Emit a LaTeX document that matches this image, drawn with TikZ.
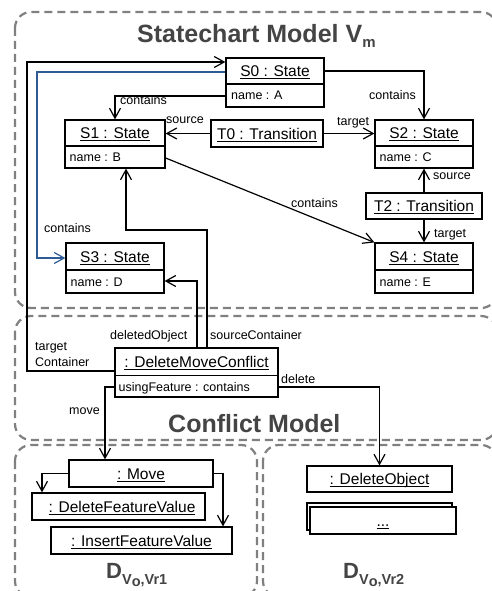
\documentclass[tikz,border=0pt]{standalone}
\usepackage{fontspec}
\setmainfont{Liberation Sans}
\usetikzlibrary{arrows.meta}
\definecolor{dashgray}{RGB}{128,128,128}
\definecolor{titlegray}{RGB}{68,68,68}
\definecolor{linkblue}{RGB}{46,90,150}
\newcommand{\myul}[1]{\setbox0=\hbox{#1}\leavevmode\rlap{\rule[-2.6pt]{\wd0}{1.1pt}}\box0}
\begin{document}
\begin{tikzpicture}[x=1pt,y=-1pt,
  region/.style={draw=dashgray, line width=2.2pt, dash pattern=on 8pt off 5pt, rounded corners=16pt},
  objbox/.style={draw, line width=1.2pt, inner sep=0pt, fill=white},
  divider/.style={line width=1.2pt},
  titletext/.style={font=\fontsize{15.5}{18}\selectfont, inner sep=0pt, text height=11.2pt, text depth=0pt},
  attrtext/.style={font=\fontsize{12.5}{15}\selectfont, inner sep=0pt, anchor=west, text height=9pt, text depth=0pt},
  lbl/.style={font=\fontsize{12.5}{15}\selectfont, inner sep=0pt, anchor=base west},
  bigtitle/.style={font=\fontsize{25}{30}\selectfont\bfseries, text=titlegray, inner sep=0pt, anchor=base west},
  conn/.style={draw, line width=1.2pt, -{Straight Barb[length=10pt,width=11pt]}},
]
\useasboundingbox (0,0) rectangle (492,591);

% regions
\draw[region] (15,12) rectangle (497,308);
\draw[region] (15,316) rectangle (497,440);
\draw[region] (15,445) rectangle (257,597);
\draw[region] (263,445) rectangle (497,597);

\node[bigtitle] (sctitle) at (137,42.7) {Statechart Model V\raisebox{-4.5pt}{\fontsize{15}{18}\selectfont m}};
\node[bigtitle] (cmtitle) at (168,432) {Conflict Model};
\node[bigtitle, font=\fontsize{22}{26}\selectfont\bfseries] (d1title) at (106,578.5) {D\raisebox{-6pt}{\fontsize{14.5}{17}\selectfont V\raisebox{-2pt}{o},Vr1}};
\node[bigtitle, font=\fontsize{22}{26}\selectfont\bfseries] (d2title) at (343,578.5) {D\raisebox{-6pt}{\fontsize{14.5}{17}\selectfont V\raisebox{-2pt}{o},Vr2}};

% states
\node[objbox, minimum width=98pt, minimum height=49pt] (s0) at (275,82.5) {};
\draw[divider] (s0.west |- 0,84) -- (s0.east |- 0,84);
\node[titletext] (s0t) at (275,71) {\myul{S0 : State}};
\node[attrtext] (s0a) at (231,95.5) {name : A};

\node[objbox, minimum width=100pt, minimum height=48pt] (s1) at (115,144) {};
\draw[divider] (s1.west |- 0,146) -- (s1.east |- 0,146);
\node[titletext] (s1t) at (115,133) {\myul{S1 : State}};
\node[attrtext] (s1a) at (69.5,157) {name : B};

\node[objbox, minimum width=98pt, minimum height=48pt] (s2) at (424,144) {};
\draw[divider] (s2.west |- 0,146) -- (s2.east |- 0,146);
\node[titletext] (s2t) at (424,133) {\myul{S2 : State}};
\node[attrtext] (s2a) at (379.5,157) {name : C};

\node[objbox, minimum width=98pt, minimum height=50pt] (s3) at (115,268) {};
\draw[divider] (s3.west |- 0,270) -- (s3.east |- 0,270);
\node[titletext] (s3t) at (115,256.5) {\myul{S3 : State}};
\node[attrtext] (s3a) at (70.5,281.5) {name : D};

\node[objbox, minimum width=98pt, minimum height=50pt] (s4) at (424,268) {};
\draw[divider] (s4.west |- 0,270) -- (s4.east |- 0,270);
\node[titletext] (s4t) at (424,256.5) {\myul{S4 : State}};
\node[attrtext] (s4a) at (379.5,281.5) {name : E};

\node[objbox, minimum width=112pt, minimum height=27pt] (t0) at (267,133.5) {};
\node[titletext] (t0t) at (267,133.5) {\myul{T0 : Transition}};

\node[objbox, minimum width=116pt, minimum height=26pt] (t2) at (424,206) {};
\node[titletext] (t2t) at (424,206) {\myul{T2 : Transition}};

% conflict
\node[objbox, minimum width=163pt, minimum height=49pt] (dmc) at (196.5,372.5) {};
\draw[divider] (dmc.west |- 0,375.5) -- (dmc.east |- 0,375.5);
\node[titletext] (dmct) at (196.5,361.5) {\myul{: DeleteMoveConflict}};
\node[attrtext] (dmca) at (118.5,386.5) {usingFeature : contains};

% differences
\node[objbox, minimum width=144pt, minimum height=27pt] (move) at (141,473.5) {};
\node[titletext] (movet) at (141,473.5) {\myul{: Move}};
\node[objbox, minimum width=173pt, minimum height=27pt] (dfv) at (118.5,506.5) {};
\node[titletext] (dfvt) at (122,506.5) {\myul{: DeleteFeatureValue}};
\node[objbox, minimum width=181pt, minimum height=27pt] (ifv) at (141.5,540.5) {};
\node[titletext] (ifvt) at (141.5,540.5) {\myul{: InsertFeatureValue}};

\node[objbox, minimum width=145pt, minimum height=26pt] (dobj) at (379.5,479) {};
\node[titletext] (dobjt) at (379.5,479) {\myul{: DeleteObject}};
\node[objbox, minimum width=145pt, minimum height=27pt] (dotsback) at (379.5,516.5) {};
\node[objbox, minimum width=146pt, minimum height=27pt] (dots) at (383,520.5) {};
\node[titletext] (dotst) at (383,520.5) {\myul{...}};

% connectors
\draw[conn] (dmc.west |- 0,371) -| (27,62) -- (s0.west |- 0,62);
\draw[conn, draw=linkblue, color=linkblue] (s0.west |- 0,72) -| (37,258) -- (s3.west |- 0,258);
\draw[conn] (s0.west |- 0,96) -| (s1.north);
\draw[conn] (s0.east |- 0,71) -| (s2.north);
\draw[conn] (t0.west) -- (t0.west -| s1.east);
\draw[conn] (t0.east) -- (t0.east -| s2.west);
\draw[conn] (t2.north) -- (s2.south);
\draw[conn] (t2.south) -- (s4.north);
\draw[conn] (s1.east |- 0,158) -- (s4.north west);
\draw[conn] (dmc.north -| 207,0) |- (126,230) -- (s1.south -| 126,0);
\draw[conn] (dmc.north -| 197,0) |- (s3.east |- 0,281);
\draw[conn] (dmc.west |- 0,387) -| (move.north -| 105,0);
\draw[conn] (dmc.east |- 0,387) -| (dobj.north);
\draw[conn] (move.west) -| (dfv.north -| 42,0);
\draw[conn] (move.east) -| (ifv.north -| 223,0);

% labels
\node[lbl] (l1) at (120,105) {contains};
\node[lbl] (l2) at (369,100) {contains};
\node[lbl] (l3) at (166,123.3) {source};
\node[lbl] (l4) at (337,125.7) {target};
\node[lbl] (l5) at (433,179) {source};
\node[lbl] (l6) at (434,237) {target};
\node[lbl] (l7) at (291,207) {contains};
\node[lbl] (l8) at (44,232) {contains};
\node[lbl] (l9) at (110,339) {deletedObject};
\node[lbl] (l10) at (210,339) {sourceContainer};
\node[lbl] (l11) at (35,350) {target};
\node[lbl] (l12) at (35,366.7) {Container};
\node[lbl] (l13) at (281,383) {delete};
\node[lbl] (l14) at (69,414) {move};
\end{tikzpicture}
\end{document}
